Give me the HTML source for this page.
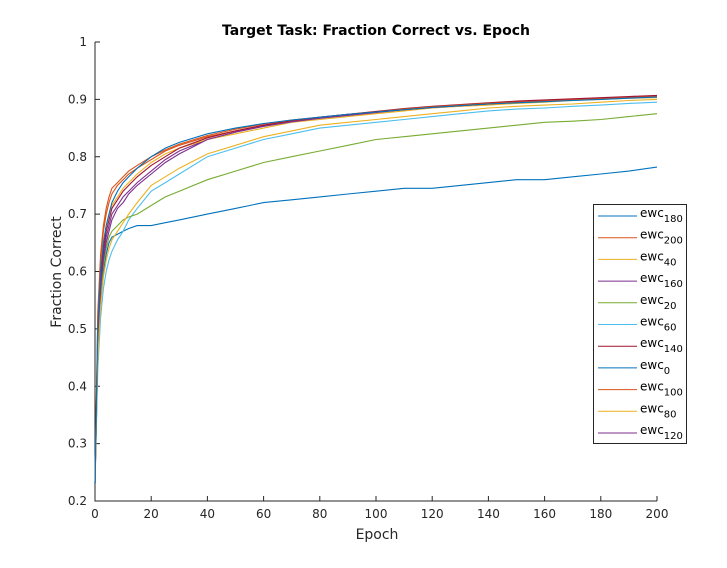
<!DOCTYPE html>
<html><head><meta charset="utf-8"><style>
body{margin:0;background:#fff;font-family:"Liberation Sans",sans-serif;}
svg text{font-family:"DejaVu Sans","Liberation Sans",sans-serif;}
</style></head><body>
<svg id="chart" width="727" height="563">
<rect width="727" height="563" fill="#fff"/>
<text x="376" y="35" text-anchor="middle" font-size="14" font-weight="bold" fill="#000">Target Task: Fraction Correct vs. Epoch</text>
<text x="377" y="539" text-anchor="middle" font-size="14" fill="#262626">Epoch</text>
<text x="61" y="272" text-anchor="middle" font-size="14" fill="#262626" transform="rotate(-90 61 272)">Fraction Correct</text>
<g id="axes"></g>
<g id="series"></g>
<g id="legend"></g>
</svg>
<script>
const epochs=[0,1,2,3,4,5,6,8,10,12,15,20,25,30,40,50,60,70,80,90,100,110,120,130,140,150,160,170,180,190,200];
const ewc0=[0.23,0.45,0.55,0.60,0.63,0.65,0.66,0.665,0.67,0.675,0.68,0.68,0.685,0.69,0.70,0.71,0.72,0.725,0.73,0.735,0.74,0.745,0.745,0.75,0.755,0.76,0.76,0.765,0.77,0.775,0.782];
const ewc20=[0.23,0.46,0.56,0.61,0.64,0.66,0.67,0.68,0.69,0.695,0.70,0.715,0.73,0.74,0.76,0.775,0.79,0.80,0.81,0.82,0.83,0.835,0.84,0.845,0.85,0.855,0.86,0.862,0.865,0.87,0.875];
const ewc40=[0.23,0.45,0.54,0.59,0.62,0.64,0.655,0.67,0.685,0.70,0.72,0.75,0.765,0.78,0.805,0.82,0.835,0.845,0.855,0.86,0.865,0.87,0.875,0.88,0.885,0.888,0.89,0.892,0.895,0.898,0.90];
const ewc60=[0.23,0.43,0.52,0.57,0.60,0.62,0.635,0.655,0.67,0.69,0.71,0.74,0.755,0.77,0.80,0.815,0.83,0.84,0.85,0.855,0.86,0.865,0.87,0.875,0.88,0.883,0.885,0.888,0.89,0.893,0.895];
const ewc80=[0.23,0.50,0.60,0.65,0.68,0.70,0.715,0.73,0.745,0.755,0.77,0.79,0.805,0.815,0.83,0.84,0.85,0.86,0.865,0.87,0.875,0.88,0.885,0.888,0.89,0.893,0.895,0.898,0.90,0.902,0.903];
const ewc100=[0.23,0.52,0.62,0.67,0.70,0.72,0.735,0.75,0.76,0.77,0.78,0.795,0.81,0.82,0.835,0.845,0.855,0.862,0.868,0.873,0.878,0.882,0.886,0.889,0.892,0.895,0.897,0.899,0.901,0.903,0.905];
const ewc120=[0.23,0.48,0.58,0.63,0.66,0.68,0.70,0.715,0.73,0.74,0.755,0.775,0.795,0.81,0.83,0.843,0.853,0.862,0.868,0.873,0.878,0.883,0.887,0.89,0.893,0.896,0.898,0.90,0.902,0.904,0.906];
const ewc140=[0.23,0.49,0.59,0.64,0.67,0.69,0.71,0.725,0.74,0.75,0.765,0.785,0.80,0.815,0.833,0.845,0.855,0.863,0.869,0.874,0.879,0.884,0.888,0.891,0.894,0.897,0.899,0.901,0.903,0.905,0.907];
const ewc160=[0.23,0.47,0.57,0.62,0.65,0.67,0.69,0.71,0.72,0.735,0.75,0.77,0.79,0.805,0.83,0.843,0.853,0.861,0.867,0.872,0.877,0.882,0.886,0.889,0.892,0.895,0.897,0.899,0.901,0.903,0.905];
const ewc180=[0.23,0.50,0.60,0.65,0.68,0.70,0.72,0.74,0.755,0.765,0.78,0.80,0.815,0.825,0.84,0.85,0.858,0.864,0.869,0.874,0.878,0.882,0.886,0.889,0.892,0.894,0.896,0.898,0.90,0.902,0.904];
const ewc200=[0.23,0.53,0.63,0.68,0.71,0.73,0.745,0.755,0.765,0.775,0.785,0.80,0.812,0.822,0.837,0.848,0.857,0.864,0.869,0.874,0.878,0.883,0.887,0.89,0.893,0.895,0.897,0.899,0.901,0.903,0.905];
const legendNames=["180","200","40","160","20","60","140","0","100","80","120"];
const seriesData=[ewc180,ewc200,ewc40,ewc160,ewc20,ewc60,ewc140,ewc0,ewc100,ewc80,ewc120];
const colors=["#0072BD","#D95319","#EDB120","#7E2F8E","#77AC30","#4DBEEE","#A2142F","#0072BD","#D95319","#EDB120","#7E2F8E"];
const xTicks=[0,20,40,60,80,100,120,140,160,180,200];
const yTicks=[0.2,0.3,0.4,0.5,0.6,0.7,0.8,0.9,1];
const yTickLabels=["0.2","0.3","0.4","0.5","0.6","0.7","0.8","0.9","1"];
const X0=95,X1=657,Y0=501,Y1=42;
const xs=v=>X0+(v-0)/(200-0)*(X1-X0);
const ys=v=>Y0-(v-0.2)/(1-0.2)*(Y0-Y1);
const NS="http://www.w3.org/2000/svg";
function mk(tag,attrs,parent){const e=document.createElementNS(NS,tag);for(const k in attrs)e.setAttribute(k,attrs[k]);parent.appendChild(e);return e;}
const axes=document.getElementById('axes');
let a=mk('path',{d:`M${X0},${Y1}V${Y0}H${X1}`,fill:'none',stroke:'#262626','stroke-width':1},axes);


xTicks.forEach(t=>{const x=xs(t);
 let l=mk('line',{x1:x,x2:x,y1:Y0,y2:Y0-5,stroke:'#262626'},axes);
 
 
 let tx=mk('text',{x:x,y:Y0+17,'text-anchor':'middle','font-size':12,fill:'#262626'},axes);tx.textContent=t;
 
 
});
yTicks.forEach((t,i)=>{const y=ys(t);
 let l=mk('line',{x1:X0,x2:X0+5,y1:y,y2:y,stroke:'#262626'},axes);
 
 
 let tx=mk('text',{x:X0-8,y:y+4,'text-anchor':'end','font-size':12,fill:'#262626'},axes);tx.textContent=yTickLabels[i];
 
 
});
const sg=document.getElementById('series');
for(let s=seriesData.length-1;s>=0;s--){
 const d=seriesData[s].map((v,i)=>(i?'L':'M')+xs(epochs[i]).toFixed(1)+','+ys(v).toFixed(1)).join('');
 let p=mk('path',{d:d,fill:'none',stroke:colors[s],'stroke-width':1.1},sg);
 
 
}
const lg=document.getElementById('legend');
let box=mk('rect',{x:593.5,y:204.5,width:93,height:239,fill:'#fff',stroke:'#262626'},lg);


legendNames.forEach((n,i)=>{const y=216+i*21.7;
 let l=mk('line',{x1:598,x2:637,y1:y,y2:y,stroke:colors[i]},lg);
 
 
 let t=mk('text',{x:640,y:y+1,'font-size':12,fill:'#000'},lg);
 
 
 t.appendChild(document.createTextNode('ewc'));
 let sub=mk('tspan',{dy:5,'font-size':10},t);sub.textContent=n;
});
</script>
</body></html>
